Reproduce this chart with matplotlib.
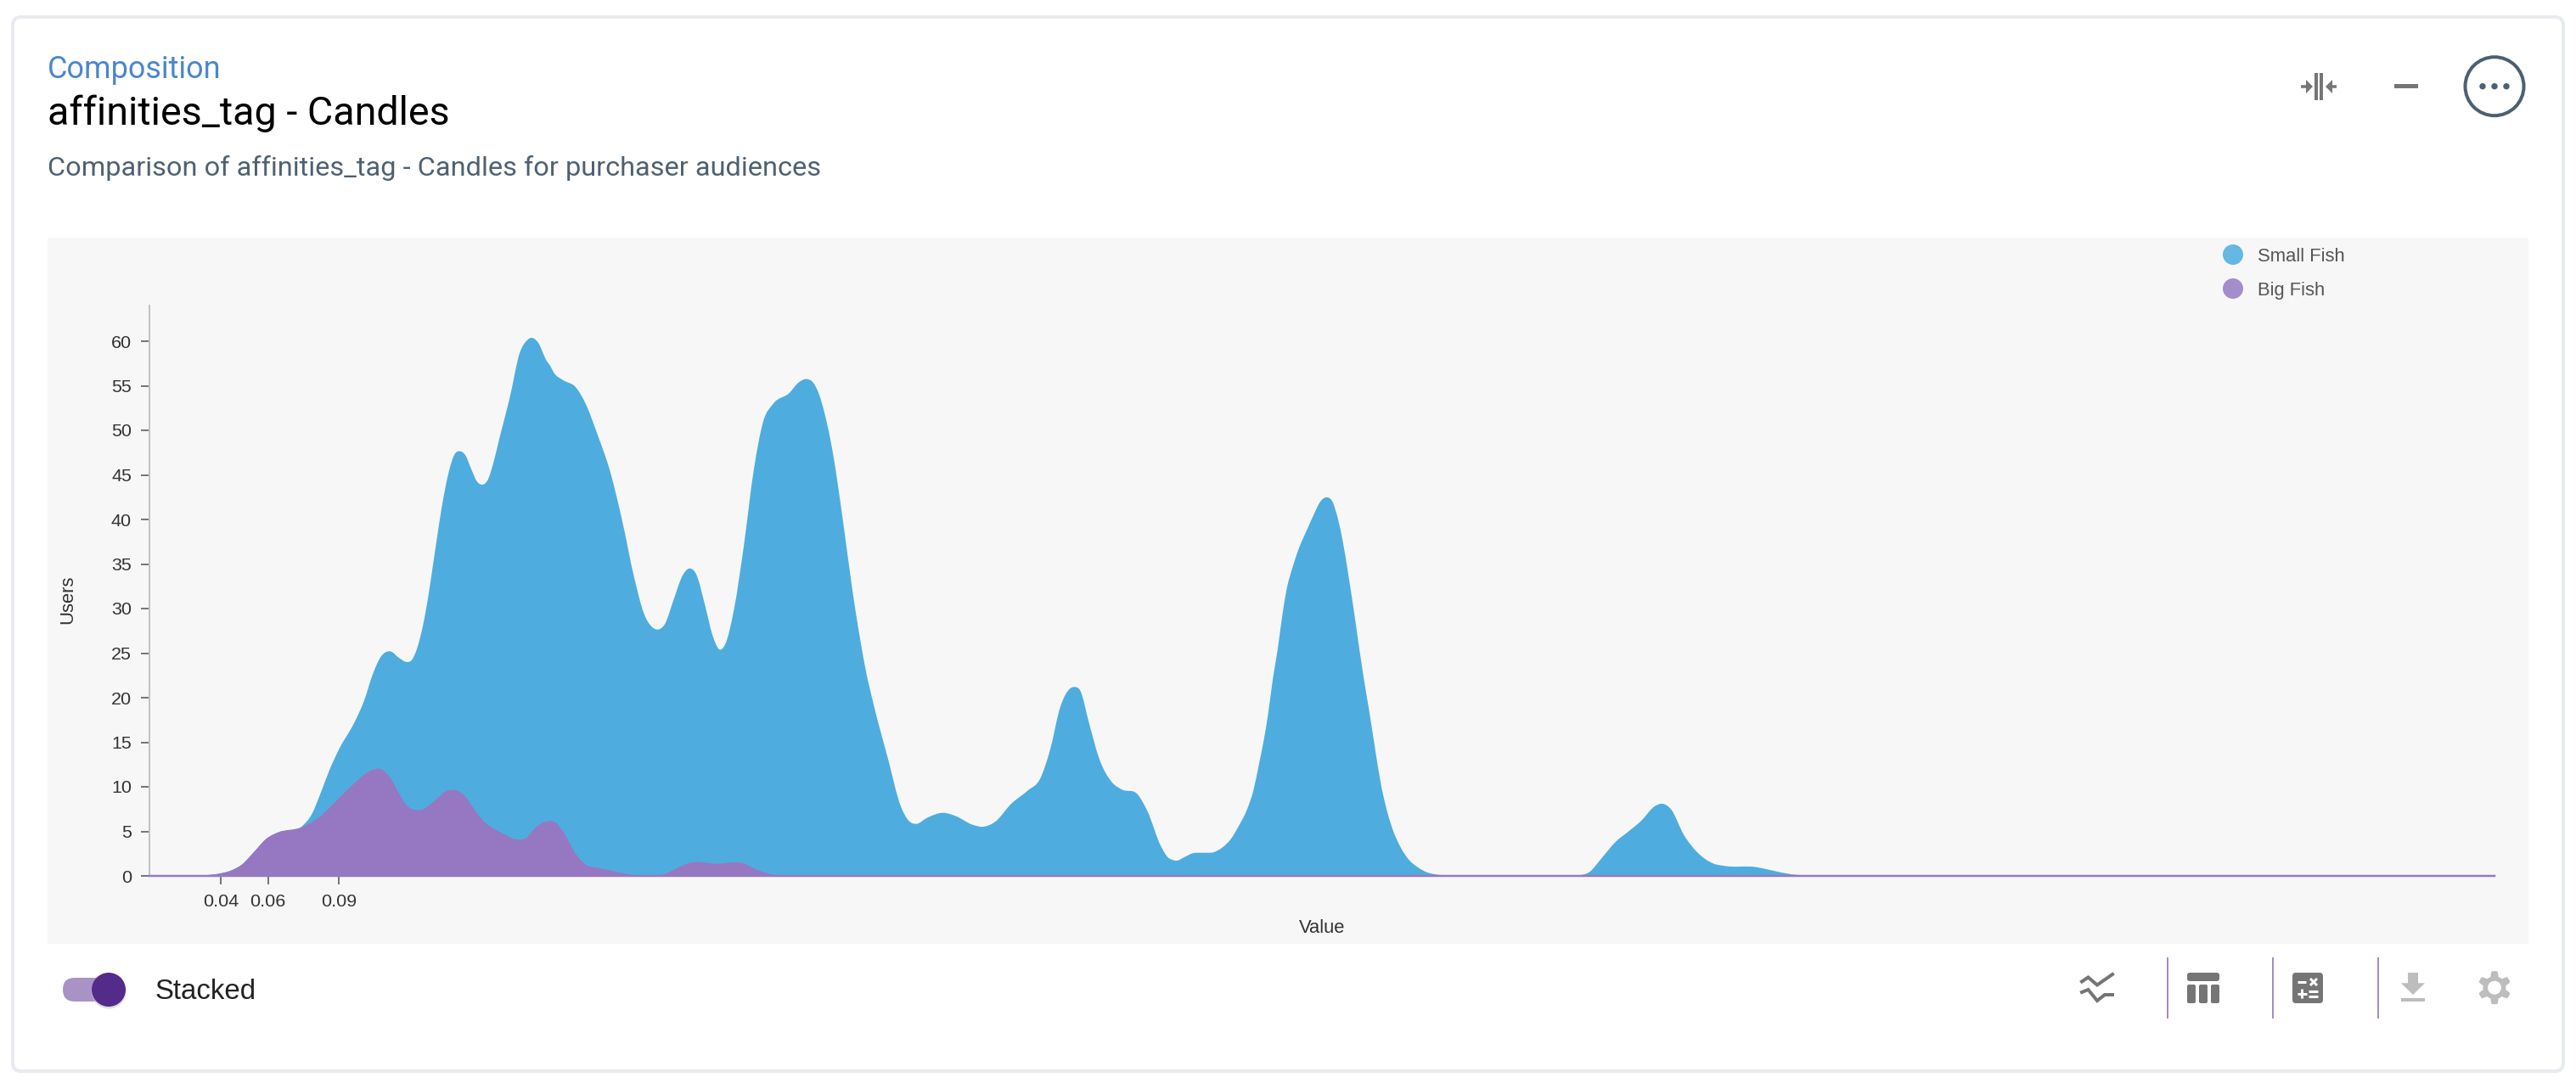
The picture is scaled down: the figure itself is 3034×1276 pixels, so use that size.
import numpy as np
import matplotlib
matplotlib.use("Agg")
import matplotlib.pyplot as plt
from matplotlib.patches import Circle, FancyBboxPatch, PathPatch, Polygon, Rectangle
from matplotlib.path import Path

W, H = 3034, 1276

# values (both fish stacked, so stacked_top is the blue outline)
x_values = [
    .0098, .0283, .0387, .0449, .0490, .0542, .0593, .0645, .0738, .0789,
    .0820, .0861, .0903, .0965, .1006, .1047, .1078,
    .1119, .1155, .1189, .1209, .1233, .1257, .1281, .1299, .1317, .1335,
    .1353, .1369, .1389, .1415, .1437, .1461, .1485, .1507, .1533, .1557,
    .1581, .1615, .1626,
    .1667, .1698, .1716, .1745, .1781, .1795, .1811, .1853, .1904, .1946,
    .1997, .2051, .2101, .2152, .2194, .2225, .2249, .2283, .2318, .2359,
    .2390, .2414, .2452, .2483, .2514, .2538, .2575, .2617, .2658, .2699,
    .2741,
    .2810, .2846, .2885, .2912, .2936, .2960, .2984, .3002, .3020, .3038,
    .3056, .3074, .3092, .3110, .3134, .3167,
    .3227, .3282, .3315, .3348, .3392, .3461, .3516, .3585, .3632, .3681,
    .3750, .3819, .3874, .3915, .3957, .3998, .4017, .4042, .4081, .4122,
    .4177, .4218, .4287, .4328, .4383, .4417,
    .4429, .4451, .4483, .4519, .4561, .4609, .4645, .4681, .4717, .4747,
    .4777, .4801, .4819, .4839,
    .4860, .4878, .4896, .4914, .4944, .4968, .5004, .5034, .5058,
    .5088, .5112, .5136, .5154, .5178, .5202, .5226, .5250,
    .5268, .5292, .5316, .5340, .5370, .5400, .5436, .5472, .5508, .5544,
    .5592, .5664,
    .5815, .6145, .6200, .6255,
    .6310, .6366, .6420, .6476, .6509, .6545, .6600, .6655, .6724, .6779,
    .6903, .6971, .7054, .7164, .8500, 1.0035,
]
stacked_top = [
    0, .04, .22, .66, 1.27, 2.71, 4.16, 4.90, 5.42, 7.08,
    9.05, 11.89, 14.30, 17.14, 19.54, 22.82, 24.57,
    25.2, 24.48, 24.0, 24.2, 25.6, 28.1, 31.6, 34.8, 38.0, 41.1,
    43.7, 45.6, 47.2, 47.65, 47.2, 45.7, 44.3, 43.9, 44.5, 46.5,
    49.1, 52.6, 53.8,
    58.68, 60.1, 60.38, 59.85, 57.8, 57.3, 56.5, 55.6, 54.85, 53.0,
    49.5, 45.3, 39.9, 33.5, 29.4, 28.0, 27.65, 28.3, 30.9, 33.8,
    34.5, 33.9, 30.4, 27.1, 25.4, 26.0, 29.9, 37.1, 45.4, 51.0,
    52.97,
    54.2, 55.3, 55.75, 55.3, 54.0, 51.8, 48.9, 46.2, 43.0, 39.6,
    36.1, 32.6, 29.4, 26.5, 23.0, 19.2,
    13.2, 7.8, 6.2, 5.84, 6.5, 7.08, 6.7, 5.75, 5.52, 6.06,
    8.1, 9.56, 11.0, 14.2, 18.9, 21.0, 21.2, 20.8, 17.0, 13.2,
    10.5, 9.7, 9.1, 7.2, 3.4, 2.0,
    1.84, 1.71, 2.1, 2.54, 2.6, 2.67, 3.2, 4.16, 5.75, 7.33,
    9.7, 12.73, 15.1, 18.3,
    22.4, 25.27, 28.76, 31.78, 34.8, 36.7, 38.9, 40.67, 41.94,
    42.48, 41.94, 39.87, 37.65, 33.84, 29.71, 25.27, 21.14,
    18.3, 14.2, 10.35, 7.5, 4.95, 3.2, 1.78, .98, .44, .19,
    .06, 0,
    0, 0, .44, 2.1,
    3.8, 5.0, 6.2, 7.8, 8.1, 7.5, 4.6, 2.7, 1.4, 1.1,
    1.0, .63, .19, 0, 0, 0,
]
big_fish = [
    0, .04, .22, .66, 1.27, 2.71, 4.16, 4.90, 5.42, 6.08,
    6.65, 7.65, 8.79, 10.37, 11.33, 11.94, 12.0,
    11.0, 9.3, 7.9, 7.5, 7.4, 7.45, 7.9, 8.25, 8.7, 9.1,
    9.5, 9.6, 9.66, 9.4, 8.9, 8.0, 7.1, 6.35, 5.7, 5.3,
    4.95, 4.5, 4.33,
    4.07, 4.33, 4.90, 5.65, 6.12, 6.16, 6.12, 4.90, 2.49, 1.27,
    .92, .61, .31, .09, 0, 0, .04, .22, .66, 1.18,
    1.48, 1.57, 1.49, 1.40, 1.36, 1.44, 1.53, 1.40, .87, .44,
    .13,
    0,
]
y_ticks = [0, 5, 10, 15, 20, 25, 30, 35, 40, 45, 50, 55, 60]
x_ticks = [0.04, 0.06, 0.09]
x_tick_labels = ["0.04", "0.06", "0.09"]
series_names = ["Small Fish", "Big Fish"]

BLUE = "#4eadde"
PURPLE = "#9678c2"
ICON = "#757575"
ICON_OFF = "#bdbdbd"
SANS = "Liberation Sans"
HEAD = "Roboto"


def px(size):
    # 100 dpi, so pixels to points
    return size * 0.72


def area_path(x, y):
    # smooth outline through the read points, closed along the baseline
    x = np.array(x, dtype=float)
    y = np.array(y, dtype=float)
    slope = np.gradient(y, x)
    verts = [(x[0], 0), (x[0], y[0])]
    codes = [Path.MOVETO, Path.LINETO]
    for i in range(len(x) - 1):
        h = x[i + 1] - x[i]
        verts.append((x[i] + h / 3, max(y[i] + slope[i] * h / 3, 0)))
        verts.append((x[i + 1] - h / 3, max(y[i + 1] - slope[i + 1] * h / 3, 0)))
        verts.append((x[i + 1], y[i + 1]))
        codes += [Path.CURVE4, Path.CURVE4, Path.CURVE4]
    verts += [(x[-1], 0), (x[0], 0)]
    codes += [Path.LINETO, Path.CLOSEPOLY]
    return Path(verts, codes)


fig = plt.figure(figsize=(W / 100, H / 100), dpi=100, facecolor="white")

# page layer in pixel coordinates, for the card around the chart
ui = fig.add_axes([0, 0, 1, 1], zorder=0)
ui.set_xlim(0, W)
ui.set_ylim(H, 0)
ui.axis("off")

ui.add_patch(FancyBboxPatch((15, 20), 3004, 1242, boxstyle="round,pad=0,rounding_size=10",
                            fc="white", ec="#e8ebee", lw=px(4)))
ui.add_patch(Rectangle((56, 280), 2922, 832, fc="#f7f7f7", ec="none"))

ui.text(56, 92, "Composition", color="#4a86cf", fontsize=px(36), family=HEAD, va="baseline")
ui.text(56, 147, "affinities_tag - Candles", color="black", fontsize=px(46.7), family=HEAD, va="baseline")
ui.text(56, 207, "Comparison of affinities_tag - Candles for purchaser audiences", color="#4f6071",
        fontsize=px(32.5), family=HEAD, va="baseline")

# collapse, minimise and menu icons
ui.add_patch(Rectangle((2726, 86), 4, 32, fc=ICON, ec="none"))
ui.add_patch(Rectangle((2732.5, 86), 4, 32, fc=ICON, ec="none"))
ui.plot([2710, 2718], [102, 102], color=ICON, lw=px(3.5), solid_capstyle="butt")
ui.add_patch(Polygon([(2716, 94), (2724, 102), (2716, 110)], fc=ICON, ec="none"))
ui.plot([2744, 2752], [102, 102], color=ICON, lw=px(3.5), solid_capstyle="butt")
ui.add_patch(Polygon([(2747, 94), (2739, 102), (2747, 110)], fc=ICON, ec="none"))
ui.add_patch(Rectangle((2820, 99), 28, 5, fc=ICON, ec="none"))
ui.add_patch(Circle((2938, 101.7), 34.5, fc="none", ec="#4d6070", lw=px(4)))
for cx in [2924, 2938, 2952]:
    ui.add_patch(Circle((cx, 101.7), 3.7, fc="#4d6070", ec="none"))

# legend
ui.add_patch(Circle((2630, 300), 12, fc="#64b8e2", ec="none"))
ui.add_patch(Circle((2630, 340), 12, fc="#a58ccb", ec="none"))
ui.text(2659, 300, series_names[0], color="#555555", fontsize=px(22), family=SANS, va="center_baseline")
ui.text(2659, 340, series_names[1], color="#555555", fontsize=px(22), family=SANS, va="center_baseline")

# stacked toggle
ui.add_patch(FancyBboxPatch((74, 1152), 60, 28, boxstyle="round,pad=0,rounding_size=14", fc="#a992c5", ec="none"))
ui.add_patch(Circle((128, 1168), 20.5, fc="#c9c9c9", ec="none", alpha=0.6))
ui.add_patch(Circle((128, 1166), 20, fc="#542b8a", ec="none"))
ui.text(183, 1165, "Stacked", color="#222222", fontsize=px(33), family=SANS, va="center_baseline")

# toolbar at the bottom right
for cx in [2553, 2677, 2801]:
    ui.plot([cx, cx], [1128, 1200], color="#a58cc4", lw=px(2), solid_capstyle="butt")

ui.plot([2452, 2459.5, 2470, 2488], [1156.5, 1151.5, 1160.5, 1148], color=ICON, lw=px(4), solid_joinstyle="miter")
ui.plot([2452, 2459.5, 2470, 2479, 2488], [1169, 1166, 1179, 1172, 1172], color=ICON, lw=px(4), solid_joinstyle="miter")

ui.add_patch(FancyBboxPatch((2576, 1146), 38, 10, boxstyle="round,pad=0,rounding_size=3", fc=ICON, ec="none"))
for cx in [2576, 2590, 2604]:
    ui.add_patch(FancyBboxPatch((cx, 1160), 10, 22, boxstyle="round,pad=0,rounding_size=2", fc=ICON, ec="none"))

ui.add_patch(FancyBboxPatch((2700, 1146), 36, 36, boxstyle="round,pad=0,rounding_size=4", fc=ICON, ec="none"))
ui.plot([2706.5, 2716.5], [1157, 1157], color="white", lw=px(3), solid_capstyle="butt")
ui.plot([2721, 2729], [1153, 1161], color="white", lw=px(3), solid_capstyle="butt")
ui.plot([2721, 2729], [1161, 1153], color="white", lw=px(3), solid_capstyle="butt")
ui.plot([2706, 2717], [1170.7, 1170.7], color="white", lw=px(3), solid_capstyle="butt")
ui.plot([2711.4, 2711.4], [1165, 1176], color="white", lw=px(3), solid_capstyle="butt")
ui.plot([2719.5, 2730], [1168, 1168], color="white", lw=px(3), solid_capstyle="butt")
ui.plot([2719.5, 2730], [1173.5, 1173.5], color="white", lw=px(3), solid_capstyle="butt")

ui.add_patch(Rectangle((2836, 1146), 12, 13, fc=ICON_OFF, ec="none"))
ui.add_patch(Polygon([(2828, 1158.3), (2856, 1158.3), (2842, 1172)], fc=ICON_OFF, ec="none"))
ui.add_patch(Rectangle((2828, 1176), 28, 4, fc=ICON_OFF, ec="none"))

gear_angle = np.radians(np.arange(0, 360, 5))
gear_radius = 16.5 + 3 * np.clip(2.2 * np.cos(6 * gear_angle), -1, 1)
ui.add_patch(Polygon(np.column_stack([2938 + gear_radius * np.sin(gear_angle),
                                      1163.7 - gear_radius * np.cos(gear_angle)]),
                     fc=ICON_OFF, ec="none"))
ui.add_patch(Circle((2938, 1163.7), 8, fc="white", ec="none"))

# chart
ax = fig.add_axes([176 / W, 1 - 1032 / H, (2938 - 176) / W, (1032 - 360) / H], zorder=1)
ax.patch.set_alpha(0)
ax.set_xlim(x_values[0], x_values[-1])
ax.set_ylim(0, 64)

ax.add_patch(PathPatch(area_path(x_values, stacked_top), fc=BLUE, ec="none", zorder=2))
ax.add_patch(PathPatch(area_path(x_values[:len(big_fish)], big_fish), fc=PURPLE, ec="none", zorder=3))
ax.plot([x_values[0], x_values[-1]], [0, 0], color=PURPLE, lw=px(2.5), zorder=4, clip_on=False)

for side in ["top", "right"]:
    ax.spines[side].set_visible(False)
ax.spines["left"].set_color("#c2c2ca")
ax.spines["left"].set_linewidth(px(2))
ax.spines["bottom"].set_color("#c2c2ca")
ax.spines["bottom"].set_linewidth(px(2))

ax.set_yticks(y_ticks)
ax.set_xticks(x_ticks)
ax.set_xticklabels(x_tick_labels)
ax.tick_params(axis="both", length=px(10), width=px(2), color="#777777", labelcolor="#333333",
               labelsize=px(21.5), pad=px(11))
ax.tick_params(axis="x", pad=px(11.5))
for label in ax.get_xticklabels() + ax.get_yticklabels():
    label.set_family(SANS)

ax.set_xlabel("Value", fontsize=px(22), family=SANS, color="#333333")
ax.set_ylabel("Users", fontsize=px(22), family=SANS, color="#333333")
ax.xaxis.set_label_coords(0.5, -51 / 672)
ax.yaxis.set_label_coords(-86 / 2762, 0.485)

fig.savefig("out.png", dpi=100)
